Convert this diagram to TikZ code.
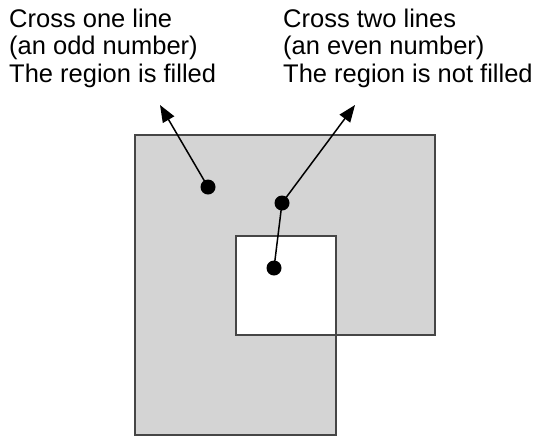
\documentclass[tikz,border=0pt]{standalone}
\usepackage{fontspec}
\setmainfont{Liberation Sans}
\usepackage{xcolor}
\usetikzlibrary{arrows.meta}
\definecolor{shapefill}{RGB}{212,212,212}
\definecolor{shapeline}{RGB}{70,70,70}

\begin{document}
\begin{tikzpicture}[x=1pt,y=-1pt]
    \tikzset{
      dot/.style={circle,fill=black,inner sep=0pt,minimum size=15pt},
      note/.style={align=left,anchor=base west,inner sep=0pt,font=\fontsize{25.5}{27.5}\selectfont},
      pointer/.style={line width=1.5pt,-{Triangle[length=17pt,width=13pt]}}
    }
    \useasboundingbox (0,0) rectangle (540,437);
    % the self-crossing outline, filled with the even-odd rule
    \filldraw[fill=shapefill,draw=shapeline,line width=2pt,even odd rule]
      (135,135) -- (435,135) -- (435,335) -- (236,335) -- (236,236)
      -- (336,236) -- (336,435) -- (135,435) -- cycle;
    \node[note] (oddtext) at (9,82) {Cross one line\\(an odd number)\\The region is filled};
    \node[note] (eventext) at (283,82) {Cross two lines\\(an even number)\\The region is not filled};
    \node[dot] (odddot) at (208,187) {};
    \node[dot] (evendot) at (282,203) {};
    \node[dot] (innerdot) at (274,268) {};
    \coordinate (oddtip) at (160,105);
    \coordinate (eventip) at (355,105);
    \draw[pointer] (odddot.center) -- (oddtip);
    \draw[pointer] (evendot.center) -- (eventip);
    \draw[line width=1.5pt] (innerdot.center) -- (evendot.center);
  \end{tikzpicture}
\end{document}
